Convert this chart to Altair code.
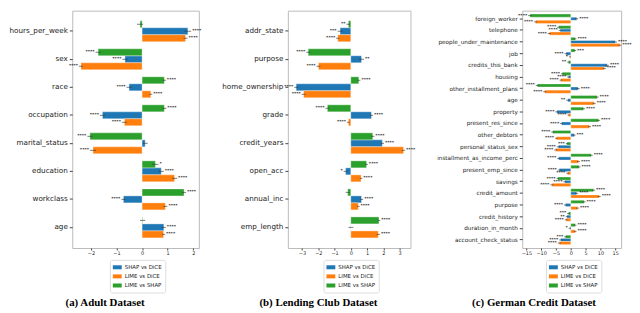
import altair as alt
import pandas as pd

groups = ["SHAP vs DiCE", "LIME vs DiCE", "LIME vs SHAP"]
colors = ["#1f77b4", "#ff7f0e", "#2ca02c"]
stack_order = ["LIME vs SHAP", "SHAP vs DiCE", "LIME vs DiCE"]

# ---------------- Adult ----------------
adult_features = ["hours_per_week", "sex", "race", "occupation", "marital_status",
                  "education", "workclass", "age"]
adult_shap_dice = [1.79, -0.67, -0.51, -1.55, 0.12, 0.75, -0.73, 0.85]
adult_lime_dice = [1.70, -2.39, 0.34, -0.69, -1.92, 1.27, 0.91, 0.84]
adult_lime_shap = [-0.08, -1.72, 0.87, 0.87, -2.04, 0.52, 1.64, 0.02]
adult_err_shap_dice = [0.13, 0.10, 0.10, 0.10, 0.10, 0.10, 0.08, 0.08]
adult_err_lime_dice = [0.08, 0.08, 0.06, 0.10, 0.12, 0.10, 0.08, 0.06]
adult_err_lime_shap = [0.12, 0.10, 0.06, 0.08, 0.10, 0.12, 0.08, 0.10]
adult_star_shap_dice = ["****", "****", "****", "****", "", "****", "****", "****"]
adult_star_lime_dice = ["****", "****", "****", "****", "****", "****", "****", "****"]
adult_star_lime_shap = ["", "****", "****", "****", "****", "*", "****", ""]

# ---------------- Lending Club ----------------
lending_features = ["addr_state", "purpose", "home_ownership", "grade", "credit_years",
                    "open_acc", "annual_inc", "emp_length"]
lending_shap_dice = [-0.66, 0.66, -3.36, 1.27, 1.94, -0.32, 0.66, 0.01]
lending_lime_dice = [-0.80, -1.99, -2.90, -0.15, 3.24, 0.63, 0.46, 1.69]
lending_lime_shap = [-0.15, -2.62, 0.49, -1.44, 1.35, 0.97, -0.19, 1.73]
lending_err_shap_dice = [0.15, 0.15, 0.12, 0.10, 0.10, 0.12, 0.10, 0.15]
lending_err_lime_dice = [0.10, 0.12, 0.12, 0.08, 0.10, 0.08, 0.08, 0.10]
lending_err_lime_shap = [0.12, 0.12, 0.10, 0.12, 0.10, 0.08, 0.12, 0.08]
lending_star_shap_dice = ["***", "**", "****", "****", "****", "*", "****", ""]
lending_star_lime_dice = ["****", "****", "****", "****", "****", "****", "****", "****"]
lending_star_lime_shap = ["**", "****", "****", "****", "****", "****", "", "****"]

# ---------------- German Credit ----------------
german_features = ["foreign_worker", "telephone", "people_under_maintenance", "job",
                   "credits_this_bank", "housing", "other_installment_plans", "age",
                   "property", "present_res_since", "other_debtors", "personal_status_sex",
                   "installment_as_income_perc", "present_emp_since", "savings",
                   "credit_amount", "purpose", "credit_history", "duration_in_month",
                   "account_check_status"]
german_shap_dice = [2.0, -3.6, 15.0, -1.6, 12.3, -0.8, 2.5, -1.0, -4.7, -3.1,
                    1.2, -4.2, -4.1, -3.9, -2.0, 2.0, -1.8, -1.3, -0.3, -3.4]
german_lime_dice = [-11.9, -7.3, 16.6, -0.3, 11.3, -3.4, -8.8, 7.9, -0.8, 6.3,
                    -4.9, -5.1, 2.6, -1.1, -6.4, 9.6, 2.3, -1.6, 1.5, -3.9]
german_lime_shap = [-13.8, -4.1, 1.5, 1.4, -0.8, -2.9, -11.3, 8.9, 4.3, 9.4,
                    -6.1, -1.3, 6.9, 2.8, -4.4, 7.7, 4.5, -0.8, 1.5, -1.8]
german_err_shap_dice = [0.5, 0.5, 0.6, 0.5, 0.6, 0.4, 0.5, 0.5, 0.5, 0.5,
                        0.4, 0.5, 0.5, 0.5, 0.5, 0.5, 0.5, 0.4, 0.4, 0.5]
german_err_lime_dice = [0.5, 0.5, 0.5, 0.3, 0.5, 0.4, 0.5, 0.5, 0.3, 0.5,
                        0.4, 0.5, 0.5, 0.4, 0.5, 0.5, 0.5, 0.4, 0.4, 0.5]
german_err_lime_shap = [0.6, 0.5, 0.4, 0.4, 0.4, 0.4, 0.5, 0.5, 0.5, 0.5,
                        0.5, 0.4, 0.5, 0.5, 0.4, 0.5, 0.5, 0.4, 0.4, 0.4]
german_star_shap_dice = ["****", "****", "****", "****", "****", "****", "****", "**",
                         "****", "****", "***", "****", "****", "****", "****", "****",
                         "****", "**", "*", "****"]
german_star_lime_dice = ["****", "****", "****", "*", "****", "****", "****", "****",
                         "****", "****", "****", "****", "****", "****", "****", "****",
                         "****", "****", "****", "****"]
german_star_lime_shap = ["****", "****", "****", "***", "**", "****", "****", "****",
                         "****", "****", "****", "***", "****", "****", "****", "****",
                         "****", "***", "****", "***"]


def make_df(features, series, errs, stars):
    rows = []
    for g, vals, es, ss in zip(groups, series, errs, stars):
        for f, v, e, s in zip(features, vals, es, ss):
            rows.append(dict(feature=f, group=g, value=v, lo=v - e, hi=v + e,
                             end=(v + e) if v >= 0 else (v - e), stars=s))
    return pd.DataFrame(rows)


W_H = 240
LEG_PATH = "M-1,-0.45H1V0.45H-1Z"


def panel(df, features, domain, ticks, width, title, label_size, pin, pout):
    def xenc(field):
        return alt.X(f"{field}:Q", title=None,
                     scale=alt.Scale(domain=domain, nice=False, zero=False),
                     axis=alt.Axis(values=ticks, labelFontSize=5, tickSize=2,
                                   tickColor="#444", domain=False, grid=False,
                                   labelPadding=1, labelColor="#222"))

    y = alt.Y("feature:N", sort=features, title=None,
              scale=alt.Scale(paddingInner=pin, paddingOuter=pout),
              axis=alt.Axis(labelFontSize=label_size, labelColor="#222", tickSize=3,
                            tickColor="#444", domain=False, labelPadding=2,
                            labelLimit=200))
    yoff = alt.YOffset("group:N", sort=stack_order,
                       scale=alt.Scale(paddingInner=0, paddingOuter=0))
    color = alt.Color("group:N", scale=alt.Scale(domain=groups, range=colors),
                      legend=alt.Legend(orient="none", legendX=width / 2 - 26,
                                        legendY=W_H + 12, title=None,
                                        labelFontSize=5.5, labelColor="#222",
                                        symbolType=LEG_PATH, symbolSize=81,
                                        symbolStrokeWidth=0, strokeColor="#dddddd",
                                        fillColor="white", padding=3, cornerRadius=2,
                                        rowPadding=1.2, labelOffset=3))
    base = alt.Chart(df)
    bars = base.mark_bar(stroke="white", strokeWidth=0.5, strokeOpacity=0.7).encode(
        x=xenc("value"), y=y, yOffset=yoff, color=color)
    errs = base.mark_rule(color="#333333", strokeWidth=0.8, opacity=0.8).encode(
        x=xenc("lo"), x2="hi:Q", y=y, yOffset=yoff)
    pos = base.transform_filter("datum.value >= 0").mark_text(
        align="left", dx=1, fontSize=4.6, baseline="middle", color="black").encode(
        x=xenc("end"), y=y, yOffset=yoff, text="stars:N")
    neg = base.transform_filter("datum.value < 0").mark_text(
        align="right", dx=-1, fontSize=4.6, baseline="middle", color="black").encode(
        x=xenc("end"), y=y, yOffset=yoff, text="stars:N")
    return alt.layer(bars, errs, pos, neg).properties(
        width=width, height=W_H,
        title=alt.TitleParams(title, orient="bottom", anchor="middle", frame="bounds",
                              font="Liberation Serif", fontWeight="bold", fontSize=11,
                              color="black", offset=4))


p1 = panel(make_df(adult_features, [adult_shap_dice, adult_lime_dice, adult_lime_shap],
                   [adult_err_shap_dice, adult_err_lime_dice, adult_err_lime_shap],
                   [adult_star_shap_dice, adult_star_lime_dice, adult_star_lime_shap]),
           adult_features, [-2.73, 2.22], [-2, -1, 0, 1, 2], 128,
           "(a) Adult Dataset", 7.3, 0.25, 0.36)
p2 = panel(make_df(lending_features, [lending_shap_dice, lending_lime_dice, lending_lime_shap],
                   [lending_err_shap_dice, lending_err_lime_dice, lending_err_lime_shap],
                   [lending_star_shap_dice, lending_star_lime_dice, lending_star_lime_shap]),
           lending_features, [-3.87, 3.67], [-3, -2, -1, 0, 1, 2, 3], 124,
           "(b) Lending Club Dataset", 7.3, 0.25, 0.36)
p3 = panel(make_df(german_features, [german_shap_dice, german_lime_dice, german_lime_shap],
                   [german_err_shap_dice, german_err_lime_dice, german_err_lime_shap],
                   [german_star_shap_dice, german_star_lime_dice, german_star_lime_shap]),
           german_features, [-16.4, 17.0], [-15, -10, -5, 0, 5, 10, 15], 100,
           "(c) German Credit Dataset", 5.8, 0.19, 0.29)

chart = alt.hconcat(p1, p2, p3, spacing=19).resolve_scale(
    color="independent", x="independent", y="independent", yOffset="independent"
).resolve_legend(color="independent").properties(
    padding={"left": 0, "top": 0, "right": 0, "bottom": 0}
).configure(font="DejaVu Sans").configure_view(stroke="#bbbbbb", strokeWidth=1)

chart.save("out.html", embed_options={"renderer": "svg", "actions": False})
